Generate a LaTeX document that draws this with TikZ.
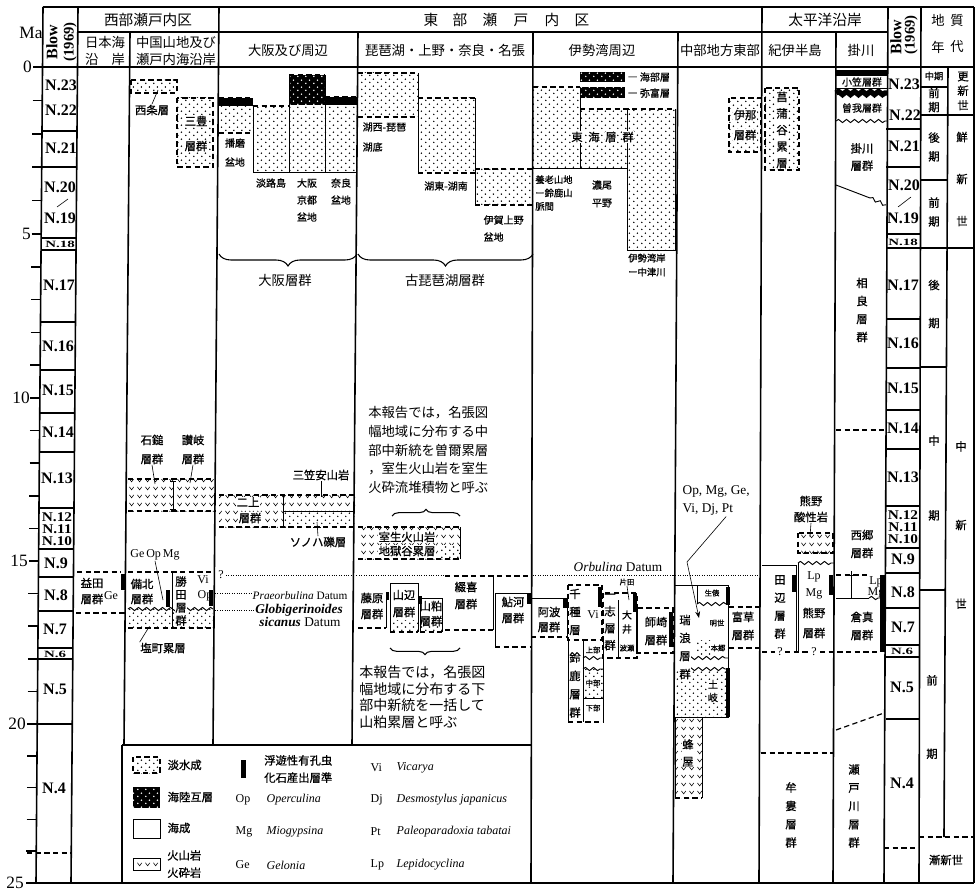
\documentclass[tikz,border=0pt]{standalone}
\usepackage{fontspec}
\setmainfont{Liberation Serif}
\newfontfamily\jp{Noto Sans CJK JP}
\newfontfamily\jpb{Noto Sans CJK JP}[FakeBold=0.8]
\usetikzlibrary{patterns,decorations.pathmorphing,decorations.pathreplacing,arrows.meta}
\pgfdeclarepatternformonly{fdots}{\pgfqpoint{0pt}{0pt}}{\pgfqpoint{6pt}{5pt}}{\pgfqpoint{6pt}{5pt}}{%
  \pgfpathcircle{\pgfqpoint{1.5pt}{1.25pt}}{0.65pt}%
  \pgfpathcircle{\pgfqpoint{4.5pt}{3.75pt}}{0.65pt}%
  \pgfusepath{fill}}
\pgfdeclarepatternformonly{vees}{\pgfqpoint{0pt}{0pt}}{\pgfqpoint{6pt}{6pt}}{\pgfqpoint{6pt}{6pt}}{%
  \pgfsetlinewidth{0.45pt}%
  \pgfpathmoveto{\pgfqpoint{1.2pt}{4.2pt}}\pgfpathlineto{\pgfqpoint{3pt}{1.8pt}}\pgfpathlineto{\pgfqpoint{4.8pt}{4.2pt}}%
  \pgfusepath{stroke}}
\begin{document}
\begin{tikzpicture}[x=0.75pt,y=-0.75pt,
  jS/.style={font=\jpb\fontsize{7.5}{8}\selectfont, inner sep=0.3pt},
  jT/.style={font=\jpb\fontsize{5.5}{6}\selectfont, inner sep=0.2pt},
  jM/.style={font=\jpb\fontsize{8.5}{9}\selectfont, inner sep=0.3pt},
  jL/.style={font=\jp\fontsize{10}{11}\selectfont, inner sep=0.3pt},
  jH/.style={font=\jp\fontsize{11}{12}\selectfont, inner sep=0pt},
  vt/.style={font=\jpb\fontsize{8.5}{#1}\selectfont, align=center, inner sep=0.3pt},
  nz/.style={font=\bfseries\fontsize{12}{12}\selectfont, inner sep=0pt},
  nzc/.style={font=\bfseries\fontsize{10}{10}\selectfont, inner sep=0pt},
  ax/.style={font=\fontsize{13}{13}\selectfont, inner sep=0pt},
  lat/.style={font=\fontsize{9}{10}\selectfont, inner sep=0.3pt},
  wb/.style={fill=white},
  frm/.style={line width=1.2pt},
  thn/.style={line width=0.7pt},
  dsh/.style={line width=0.9pt, dash pattern=on 4pt off 2.5pt},
  fw/.style={pattern=fdots},
  wd/.style={pattern=fdots, pattern color=white},
  vo/.style={pattern=vees},
  wav/.style={line width=0.7pt, decorate, decoration={snake, amplitude=1.2pt, segment length=6pt}},
  dotl/.style={line width=0.6pt, dash pattern=on 0.6pt off 1.2pt},
  lead/.style={line width=0.45pt},
  brc/.style={decorate, decoration={brace, amplitude=#1}, line width=0.8pt},
]
\useasboundingbox (0,0) rectangle (976,892);

%%%%%%%% PATTERN FILLS
% Chugoku
\fill[fw] (131,80) rectangle (177,93);
\fill[fw] (177,98) rectangle (213,167);
\fill[vo] (128,479) rectangle (215,511);
\fill[fw] (128,609) rectangle (213,628);
% Osaka
\fill (219,98) rectangle (253,106);
\fill[fw] (219,106) rectangle (253,133);
\fill[fw] (253,106) rectangle (289,172);
\fill (289,75) rectangle (325,105);
\fill[wd] (289,75) rectangle (325,105);
\fill[fw] (289,105) rectangle (325,172);
\fill (325,97) rectangle (357,105);
\fill[fw] (325,105) rectangle (357,172);
\fill[vo] (219,495) rectangle (283,527);
\fill[vo] (283,495) rectangle (355,511);
\fill[fw] (283,511) rectangle (355,527);
% Biwa
\fill[fw] (358,73) rectangle (418,117);
\fill[fw] (418,98) rectangle (475,173);
\fill[fw] (475,169) rectangle (533,205);
\fill[vo] (358,527) rectangle (460,559);
\fill[white] (440,545) rectangle (459,558);
\fill[fw] (440,545) rectangle (459,558);
\fill[fw] (390,620) rectangle (418,632);
\fill[fw] (420,622) rectangle (442,632);
% Ise
\fill (580,72) rectangle (625,82);
\fill (580,87) rectangle (625,98);
\fill[wd] (580,72) rectangle (625,98);
\fill[fw] (533,87) rectangle (580,168);
\fill[fw] (580,109) rectangle (627,168);
\fill[fw] (627,109) rectangle (675,250);
\fill[fw] (583,669) rectangle (603,698);
% Chubu
\fill[fw] (729,98) rectangle (761,152);
\fill[fw] (676,670) rectangle (727,717);
\fill[fw] (697,640) rectangle (712,656);
\fill[vo] (675,717) rectangle (702,798);
% Kii
\fill[fw] (765,88) rectangle (799,170);
\fill[vo] (798,533) rectangle (833,553);
% legend swatches
\fill[fw] (133,757) rectangle (160,773);
\fill (133,787) rectangle (160,808);
\fill[wd] (133,787) rectangle (160,808);
\fill[vo] (133,858) rectangle (160,870);

%%%%%%%% FRAME
\draw[frm] (43,7) -- (974,7);
\draw[frm] (78,32) -- (888,32);
\draw[frm] (33,67) -- (974,67);
\draw[frm] (43,7) -- (36,883);
\draw[frm] (78,7) -- (71,883);
\draw[frm] (130,32) -- (124,745);
\draw[frm] (219,7) -- (213,745);
\draw[frm] (358,32) -- (352,745);
\draw[frm] (533,32) -- (531,883);
\draw[frm] (678,32) -- (673,883);
\draw[frm] (762,7) -- (759,883);
\draw[frm] (836,32) -- (833,883);
\draw[frm] (888,7) -- (884,883);
\draw[frm] (921,7) -- (919,883);
\draw[frm] (948,67) -- (944,837);
\draw[frm] (974,7) -- (974,883);
\draw[frm] (26,883) -- (974,883);
\draw[frm] (122,745) -- (531,745);
\draw[frm] (122,745) -- (122,883);

% ticks
\foreach \yy in {67,100.4,133.8,167.2,200.6,234,266.8,299.6,332.4,365.2,398,430.6,463.2,495.8,528.4,561,593.6,626.2,658.8,691.4,724,755.8,787.6,819.4,851.2,883}{
  \pgfmathsetmacro\xa{43-7*(\yy-67)/816}
  \draw[frm] (\xa-10,\yy) -- (\xa,\yy);}
% left Blow cells
\foreach \yy in {131,167,238,250,322,370,413,452,508,549,577,611,648,659,724}{
  \pgfmathsetmacro\xa{43-7*(\yy-67)/816}
  \draw[frm] (\xa,\yy) -- (\xa+35,\yy);}
\draw[dsh] (27,853) -- (71,853);
% right Blow cells
\foreach \yy in {129,167,234,248,319,368,410,449,506,548,573,608,645,657,719}{
  \draw[frm] (886,\yy) -- (920,\yy);}
\draw[dsh] (884,848) -- (919,848);
\draw[lead] (68,199) -- (57,207);
\draw[lead] (911,197) -- (898,207);
% age column
\draw[frm] (921,87) -- (948,87);
\draw[frm] (921,115) -- (974,115);
\draw[frm] (921,180) -- (948,180);
\draw[frm] (920,248) -- (974,248);
\draw[frm] (920,367) -- (946,367);
\draw[frm] (920,590) -- (945,590);
\draw[dsh] (919,837) -- (974,837);

%%%%%%%% HEADER TEXT
\node[ax] (ma) at (31,33) {Ma};
\node[rotate=90, font=\bfseries\fontsize{12}{12}\selectfont, inner sep=0] (blowL) at (52,42) {Blow};
\node[rotate=90, font=\bfseries\fontsize{11}{11}\selectfont, inner sep=0] (yrL) at (70,42) {(1969)};
\node[rotate=90, font=\bfseries\fontsize{12}{12}\selectfont, inner sep=0] (blowR) at (896,37) {Blow};
\node[rotate=90, font=\bfseries\fontsize{11}{11}\selectfont, inner sep=0] (yrR) at (911,35) {(1969)};
\node[jH] (hW) at (148,20) {西部瀬戸内区};
\node[jH] (hE1) at (431,20) {東};
\node[jH] (hE2) at (460,20) {部};
\node[jH] (hE3) at (490,20) {瀬};
\node[jH] (hE4) at (521,20) {戸};
\node[jH] (hE5) at (552,20) {内};
\node[jH] (hE6) at (582,20) {区};
\node[jH] (hP) at (825,20) {太平洋沿岸};
\node[jL] (hA1) at (938,20) {地};
\node[jL] (hA2) at (957,20) {質};
\node[jL] (hA3) at (938,47) {年};
\node[jL] (hA4) at (957,47) {代};
\node[jL] (c1a) at (105,42) {日本海};
\node[jL] (c1b) at (105,59) {沿\hspace{1em}岸};
\node[jL] (c2a) at (176,42) {中国山地及び};
\node[jL] (c2b) at (176,59) {瀬戸内海沿岸};
\node[jL] (c3) at (288,50) {大阪及び周辺};
\node[jL] (c4) at (445,50) {琵琶湖・上野・奈良・名張};
\node[jL] (c5) at (602,50) {伊勢湾周辺};
\node[jL] (c6) at (720,50) {中部地方東部};
\node[jL] (c7) at (795,50) {紀伊半島};
\node[jL] (c8) at (861,50) {掛川};

% axis numbers
\node[ax, anchor=east] (a0) at (32,67) {0};
\node[ax, anchor=east] (a5) at (31,234) {5};
\node[ax, anchor=east] (a10) at (30,398) {10};
\node[ax, anchor=east] (a15) at (28,561) {15};
\node[ax, anchor=east] (a20) at (26,724) {20};
\node[ax, anchor=east] (a25) at (24,883) {25};

% Blow zones left
\node[nz] (l23) at (61,85) {N.23};
\node[nz] (l22) at (61,110) {N.22};
\node[nz] (l21) at (61,148) {N.21};
\node[nz] (l20) at (60,187) {N.20};
\node[nz] (l19) at (60,218) {N.19};
\node[inner sep=0, font=\bfseries\fontsize{8}{8}\selectfont] (l18) at (60,244) {\scalebox{1.4}[0.9]{N.18}};
\node[nz] (l17) at (59,285) {N.17};
\node[nz] (l16) at (58,346) {N.16};
\node[nz] (l15) at (58,390) {N.15};
\node[nz] (l14) at (58,432) {N.14};
\node[nz] (l13) at (57,478) {N.13};
\node[nzc] (l12) at (57,517) {\scalebox{1.15}[1]{N.12}};
\node[nzc] (l11) at (57,529) {\scalebox{1.15}[1]{N.11}};
\node[nzc] (l10) at (57,541) {\scalebox{1.15}[1]{N.10}};
\node[nz] (l9) at (56,563) {N.9};
\node[nz] (l8) at (56,595) {N.8};
\node[nz] (l7) at (55,629) {N.7};
\node[inner sep=0, font=\bfseries\fontsize{8}{8}\selectfont] (l6) at (55,654) {\scalebox{1.4}[0.9]{N.6}};
\node[nz] (l5) at (55,689) {N.5};
\node[nz] (l4) at (54,788) {N.4};
% Blow zones right
\node[nz] (r23) at (904,84) {N.23};
\node[nz] (r22) at (905,115) {N.22};
\node[nz] (r21) at (904,146) {N.21};
\node[nz] (r20) at (904,185) {N.20};
\node[nz] (r19) at (903,218) {N.19};
\node[inner sep=0, font=\bfseries\fontsize{8}{8}\selectfont] (r18) at (903,242) {\scalebox{1.4}[0.9]{N.18}};
\node[nz] (r17) at (903,285) {N.17};
\node[nz] (r16) at (903,343) {N.16};
\node[nz] (r15) at (903,388) {N.15};
\node[nz] (r14) at (903,428) {N.14};
\node[nz] (r13) at (903,477) {N.13};
\node[nzc] (r12) at (903,515) {\scalebox{1.15}[1]{N.12}};
\node[nzc] (r11) at (903,527) {\scalebox{1.15}[1]{N.11}};
\node[nzc] (r10) at (903,539) {\scalebox{1.15}[1]{N.10}};
\node[nz] (r9) at (903,559) {N.9};
\node[nz] (r8) at (903,592) {N.8};
\node[nz] (r7) at (903,627) {N.7};
\node[inner sep=0, font=\bfseries\fontsize{8}{8}\selectfont] (r6) at (902,651) {\scalebox{1.4}[0.9]{N.6}};
\node[nz] (r5) at (902,687) {N.5};
\node[nz] (r4) at (902,783) {N.4};

% geological age
\node[jT, font=\jpb\fontsize{7}{7}\selectfont] (g1) at (934,76) {中期};
\node[vt=10.5pt] (g2) at (934,100) {前\\期};
\node[vt=10.9pt] (g3) at (963,91) {更\\新\\世};
\node[vt=14pt] (g4) at (934,147) {後\\期};
\node[vt=14pt] (g5) at (934,212) {前\\期};
\node[vt=31.5pt] (g6) at (962,179) {鮮\\新\\世};
\node[vt=28.5pt] (g7) at (934,304) {後\\期};
\node[vt=56pt] (g8) at (934,478) {中\\期};
\node[vt=59pt] (g9) at (961,525) {中\\新\\世};
\node[vt=55pt] (g10) at (932,717) {前\\期};
\node[jM] (g11) at (946,860) {漸新世};

%%%%%%%% WESTERN COLUMNS
% Nihonkai: Masuda
\draw[dsh] (77,572) -- (121,572) (76,613) -- (125,613);
\fill (121,574) rectangle (125,590);
\node[jM] (masuda1) at (92,583) {益田};
\node[jM] (masuda2) at (92,599) {層群};
\node[lat] (ge1) at (111,596) {Ge};
% Chugoku
\draw[dsh] (131,80) rectangle (177,93);
\draw[dsh] (177,98) rectangle (213,167);
\node[jM] (saijo) at (152,110) {西条層};
\coordinate (saijoP) at (158,90);
\draw[lead] (saijo.north) -- (saijoP);
\node[jM, wb] (mito1) at (196,121) {三豊};
\node[jM, wb] (mito2) at (196,146) {層群};
\draw[dsh] (128,479) -- (215,479) (128,511) -- (215,511);
\draw[thn] (173,481) -- (173,509) (170,481) -- (176,481) (170,509) -- (176,509);
\node[jM] (ishi1) at (152,440) {石鎚};
\node[jM] (ishi2) at (152,459) {層群};
\node[jM] (sanu1) at (193,440) {讃岐};
\node[jM] (sanu2) at (193,459) {層群};
\coordinate (ishiP) at (155,484);
\coordinate (sanuP) at (190,483);
\draw[lead] (ishi2.south) -- (ishiP);
\draw[lead] (sanu2.south) -- (sanuP);
\draw[dsh] (128,572) -- (213,572);
\draw[thn] (172,572) -- (172,628);
\draw[wav] (128,609) -- (213,609);
\draw[dsh] (128,628) -- (213,628);
\fill (166,590) rectangle (170,607);
\fill (209,590) rectangle (213,606);
\node[lat] (geopmg) at (155,555) {Ge\,Op\,Mg};
\coordinate (geopmgP) at (163,600);
\draw[lead] (geopmg.south) -- (geopmgP);
\node[jM] (bihoku1) at (142,584) {備北};
\node[jM] (bihoku2) at (142,599) {層群};
\node[vt=9.75pt, wb] (katsuta) at (181,601) {勝\\田\\層\\群};
\node[lat] (vi1) at (203,580) {Vi};
\node[lat] (op1) at (205,596) {Op};
\node[jM] (shiomachi) at (163,648) {塩町累層};
\coordinate (shioP) at (149,627);
\draw[lead] (shiomachi.north west) -- (shioP);
\node[lat] (q1) at (221,575) {?};

%%%%%%%% OSAKA
\draw[dsh] (219,98) -- (253,98) (219,133) -- (253,133) (253,106) -- (289,106) (289,75) -- (325,75) (325,97) -- (357,97);
\draw[thn] (253,106) -- (253,172) -- (357,172);
\draw[thn] (289,75) -- (289,172) (325,75) -- (325,172);
\node[jS] (harima1) at (235,143) {播磨};
\node[jS] (harima2) at (235,162) {盆地};
\node[jS] (awaji) at (271,183) {淡路島};
\node[jS] (osk1) at (307,183) {大阪};
\node[jS] (osk2) at (307,200) {京都};
\node[jS] (osk3) at (307,217) {盆地};
\node[jS] (nara1) at (341,183) {奈良};
\node[jS] (nara2) at (341,200) {盆地};
\draw[brc=9pt] (357,254) -- (219,254);
\node[jL] (osakagr) at (285,280) {大阪層群};
% Nijo / Mikasa
\draw[dsh] (219,495) -- (355,495) (219,527) -- (355,527);
\draw[thn] (283,495) -- (283,527) (283,511) -- (355,511);
\node[jM, wb] (nijo1) at (248,502) {二上};
\node[jM, wb] (nijo2) at (250,518) {層群};
\node[jM] (mikasa) at (321,475) {三笠安山岩};
\coordinate (mikasaP) at (321,497);
\draw[lead] (mikasa.south) -- (mikasaP);
\node[jM] (sonoha) at (318,542) {ソノハ礫層};
\coordinate (sonohaP) at (317,522);
\draw[lead] (sonoha.north) -- (sonohaP);
\draw[lead] (313,527) -- (321,527);
% datums
\draw[dotl] (226,575) -- (357,575);
\node[font=\fontsize{8.5}{9}\selectfont, inner sep=0.3pt, anchor=west] (praeo) at (252,596) {\textit{Praeorbulina} Datum};
\coordinate (praeoL) at (215,593);
\draw[dotl] (praeoL) -- (praeo.west |- praeoL);
\node[font=\bfseries\itshape\fontsize{10}{10}\selectfont, inner sep=0.3pt] (globi) at (299,610) {Globigerinoides};
\coordinate (globiL) at (215,610);
\draw[dotl] (globiL) -- (globi.west |- globiL);
\node[font=\fontsize{10}{10}\selectfont, inner sep=0.3pt] (sican) at (300,622) {\textbf{\textit{sicanus}} Datum};

%%%%%%%% BIWA
\draw[dsh] (358,73) -- (418,73) (358,117) -- (418,117) (418,98) -- (475,98) (418,173) -- (475,173) (475,169) -- (533,169) (475,205) -- (533,205);
\draw[thn] (418,73) -- (418,173) (475,98) -- (475,205);
\node[jS, anchor=west] (kosei1) at (362,127) {湖西-琵琶};
\node[jS, anchor=west] (kosei2) at (362,147) {湖底};
\node[jS] (koto) at (446,186) {湖東-湖南};
\node[jS, anchor=west] (iga1) at (483,220) {伊賀上野};
\node[jS, anchor=west] (iga2) at (483,237) {盆地};
\draw[brc=9pt] (533,254) -- (358,254);
\node[jL] (kobiwa) at (445,280) {古琵琶湖層群};
\node[anchor=west, align=left, font=\jp\fontsize{10}{13.9}\selectfont, inner sep=0] (blk1) at (368,450) {本報告では，名張図\\幅地域に分布する中\\部中新統を曽爾累層\\，室生火山岩を室生\\火砕流堆積物と呼ぶ};
\draw[brc=5pt] (392,516) -- (460,516);
\draw[dsh] (358,527) -- (460,527) (358,559) -- (460,559);
\draw[thn] (460,527) -- (460,559);
\node[jM, wb] (muro1) at (407,537) {室生火山岩};
\node[jM, wb] (muro2) at (407,551) {地獄谷累層};
% lower Biwa boxes
\draw[thn] (386,593) -- (386,628);
\draw[dsh] (358,628) -- (386,628);
\node[jM] (fuji1) at (372,598) {藤原};
\node[jM] (fuji2) at (372,614) {層群};
\draw[thn] (390,632) -- (390,583) -- (418,583) -- (418,632);
\draw[dsh] (390,632) -- (418,632);
\node[jM] (yama1) at (404,595) {山辺};
\node[jM] (yama2) at (404,612) {層群};
\draw[thn] (420,632) -- (420,598) -- (442,598) -- (442,632);
\draw[dsh] (420,632) -- (442,632);
\node[jM] (yamak1) at (431,606) {山粕};
\node[jM] (yamak2) at (431,621) {層群};
\fill (386,592) rectangle (389,600);
\fill (419,596) rectangle (422,604);
\draw[dsh] (445,576) -- (531,576) (445,630) -- (493,630);
\draw[thn] (493,576) -- (493,630);
\node[jM] (tsu1) at (466,587) {綴喜};
\node[jM] (tsu2) at (466,604) {層群};
\draw[thn] (495,647) -- (495,593) -- (531,593);
\draw[dsh] (495,647) -- (531,647);
\fill (527,593) rectangle (531,604);
\node[jM] (ayu1) at (513,602) {鮎河};
\node[jM] (ayu2) at (513,618) {層群};
\draw[brc=5pt] (460,648) -- (390,648);
\node[anchor=west, align=left, font=\jp\fontsize{10.5}{12.5}\selectfont, inner sep=0] (blk2) at (359,697) {本報告では，名張図\\幅地域に分布する下\\部中新統を一括して\\山粕累層と呼ぶ};

%%%%%%%% ISE
\draw[dsh] (533,87) -- (580,87) (580,109) -- (675,109);
\draw[thn] (580,98) -- (580,168) (533,168) -- (627,168) (627,109) -- (627,250) -- (675,250) -- (675,109);
\draw[thn] (624,109) -- (630,109);
\node[jS, anchor=west] (ama) at (627,77) {― 海部層};
\node[jS, anchor=west] (yato) at (627,93) {― 弥富層};
\node[jM, wb] (tk1) at (577,137) {東};
\node[jM, wb] (tk2) at (594,137) {海};
\node[jM, wb] (tk3) at (611,137) {層};
\node[jM, wb] (tk4) at (628,137) {群};
\node[anchor=west, align=left, font=\jpb\fontsize{7}{10}\selectfont, inner sep=0] (yoro) at (535,193) {養老山地\\ー鈴鹿山\\脈間};
\node[jS] (nobi1) at (602,185) {濃尾};
\node[jS] (nobi2) at (602,203) {平野};
\node[anchor=west, align=left, font=\jpb\fontsize{7}{10.5}\selectfont, inner sep=0] (isewan) at (628,265) {伊勢湾岸\\ー中津川};
% lower Ise
\draw[thn] (531,598) -- (567,598) -- (567,637);
\draw[dsh] (531,637) -- (567,637);
\fill (563,598) rectangle (567,608);
\node[jM] (awa1) at (549,612) {阿波};
\node[jM] (awa2) at (549,627) {層群};
\draw[dsh] (568,585) rectangle (602,640);
\fill (598,587) rectangle (602,607);
\node[vt=13.5pt] (chigusa) at (575,612) {千\\種\\層};
\node[lat] (vi2) at (593,615) {Vi};
\draw[thn] (568,640) -- (568,722) (603,640) -- (603,722) (583,640) -- (583,722);
\draw[dsh] (568,722) -- (603,722);
\draw[wav] (583,658) -- (603,658);
\draw[wav] (583,669) -- (603,669);
\draw[thn] (583,698) -- (603,698);
\node[vt=13.75pt] (suzuka) at (575,685) {鈴\\鹿\\層\\群};
\node[jT] (jo) at (593,650) {上部};
\node[jT, wb] (chu) at (593,683) {中部};
\node[jT] (ka) at (593,708) {下部};
\draw[dsh] (603,593) rectangle (637,658);
\draw[thn] (618,600) -- (618,658);
\fill (633,593) rectangle (637,612);
\node[vt=12.75pt] (ichishi) at (610,622) {一\\志\\層\\群};
\node[vt=10.5pt, font=\jpb\fontsize{7.5}{10.5}\selectfont] (ooi) at (627,622) {大\\井};
\node[jT] (hase) at (627,648) {波瀬};
\node[jT] (katada) at (627,582) {片田};
\coordinate (katadaP) at (629,600);
\draw[lead] (katada.south) -- (katadaP);
\draw[dsh] (637,608) rectangle (673,653);
\fill (669,612) rectangle (673,647);
\node[jM] (mor1) at (656,622) {師崎};
\node[jM] (mor2) at (656,640) {層群};

%%%%%%%% CHUBU
\draw[dsh] (729,98) rectangle (761,152);
\node[jM, wb] (ina1) at (745,115) {伊那};
\node[jM, wb] (ina2) at (745,135) {層群};
\node[lat, anchor=west, align=left, font=\fontsize{10}{13.5}\selectfont] (opmg) at (682,501) {Op, Mg, Ge,\\Vi, Dj, Pt};
\coordinate (opk) at (687,562);
\coordinate (opP) at (699,618);
\draw[lead, -{Stealth[length=5pt]}] (opmg.south) ++(10,0) -- (opk) -- (opP);
\draw[thn] (675,585) -- (728,585) -- (728,717) -- (675,717);
\draw[thn] (697,585) -- (697,604);
\draw[wav] (697,604) -- (728,604);
\draw[wav] (680,658) -- (728,658);
\draw[wav] (680,669) -- (728,669);
\fill (726,587) rectangle (730,605);
\fill (726,668) rectangle (730,717);
\node[jT] (ikubo) at (712,593) {生俵};
\node[jT] (akeyo) at (717,623) {明世};
\node[jT, wb] (hongo) at (718,648) {本郷};
\node[vt=9.75pt, font=\jpb\fontsize{7.5}{9.75}\selectfont, wb] (toki) at (713,691) {土\\岐};
\node[vt=13.5pt, wb] (mizu) at (685,647) {瑞\\浪\\層\\群};
\draw[dsh] (729,607) -- (760,607) (729,648) -- (760,648);
\node[jM] (tomi1) at (743,617) {富草};
\node[jM] (tomi2) at (743,635) {層群};
\draw[thn] (675,717) -- (675,798) (702,717) -- (702,798);
\draw[dsh] (675,798) -- (702,798);
\node[vt=12.75pt, wb] (hachiya) at (688,753) {蜂\\屋};
\draw[dotl] (673,575) -- (759,575);
\node[font=\fontsize{10}{10}\selectfont, inner sep=0.3pt] (orbu) at (618,567) {\textit{Orbulina} Datum};
\draw[dotl] (359,575) -- (445,575) (533,575) -- (673,575);

%%%%%%%% KII
\draw[dsh] (765,88) rectangle (799,170);
\node[vt=12.4pt, wb] (shobu) at (782,130) {菖\\蒲\\谷\\累\\層};
\node[jM] (kumano1) at (811,501) {熊野};
\node[jM] (kumano2) at (811,517) {酸性岩};
\coordinate (kumanoP) at (810,537);
\draw[lead] (kumano2.south) -- (kumanoP);
\draw[dsh] (798,533) rectangle (833,553);
\draw[wav] (798,563) -- (834,563);
\draw[thn] (762,565) -- (796,565) -- (796,652);
\draw[thn] (798,563) -- (798,652);
\fill (792,575) rectangle (796,592);
\fill (829,575) rectangle (833,595);
\node[vt=13.5pt] (tanabe) at (780,607) {田\\辺\\層\\群};
\node[lat] (qa) at (780,652) {?};
\node[lat] (lp1) at (814,577) {Lp};
\node[lat] (mg1) at (814,594) {Mg};
\node[jM] (kum1) at (814,613) {熊野};
\node[jM] (kum2) at (814,633) {層群};
\node[lat] (qb) at (814,652) {?};
\draw[dsh] (762,652) -- (775,652) (785,652) -- (808,652) (820,652) -- (880,652);
\draw[dsh] (761,753) -- (833,753);
\node[vt=13.75pt] (muro) at (791,815) {牟\\婁\\層\\群};

%%%%%%%% KAKEGAWA
\fill (836,70) rectangle (888,75);
\draw[thn] (836,75) -- (888,75) (836,88) -- (888,88);
\node[jS] (ogasa) at (862,82) {小笠層群};
\draw[decorate, decoration={snake, amplitude=1.2pt, segment length=6pt}, line width=4pt] (836,93) -- (887,93);
\node[jS] (soga) at (862,108) {曽我層群};
\draw[wav] (836,121) -- (887,121);
\node[vt=13pt] (kake) at (862,157) {掛川\\層群};
\draw[thn] (836,185) -- (870,198);
\draw[wav] (870,198) -- (886,205);
\node[vt=13.5pt] (sagara) at (862,310) {相\\良\\層\\群};
\draw[dsh] (836,430) -- (884,430);
\node[vt=13.5pt] (saigo) at (862,544) {西郷\\層群};
\draw[dsh] (836,575) -- (870,575);
\draw[thn] (851,571) -- (851,598) (846,575) -- (856,575);
\node[lat] (lp2) at (876,582) {Lp};
\node[lat] (mg2) at (876,593) {Mg};
\draw[thn] (836,598) -- (869,598);
\draw[wav] (869,598) -- (880,598);
\fill (880,575) rectangle (885,652);
\node[vt=13.5pt] (kura) at (862,626) {倉真\\層群};
\draw[dsh] (836,730) -- (884,713);
\node[vt=13.7pt] (setogawa) at (854,806) {瀬\\戸\\川\\層\\群};

%%%%%%%% LEGEND
\draw[dsh] (133,757) rectangle (160,773);
\draw[thn] (133,819) rectangle (160,838);
\draw[thn] (133,858) rectangle (160,870);
\node[jM, anchor=west] (lg1) at (167,765) {淡水成};
\node[jM, anchor=west] (lg2) at (167,797) {海陸互層};
\node[jM, anchor=west] (lg3) at (167,828) {海成};
\node[anchor=west, align=left, font=\jpb\fontsize{8.5}{13}\selectfont, inner sep=0] (lg4) at (167,864) {火山岩\\火砕岩};
\fill (241,760) rectangle (246,778);
\node[anchor=west, align=left, font=\jpb\fontsize{8.5}{13}\selectfont, inner sep=0] (lg5) at (264,769) {浮遊性有孔虫\\化石産出層準};
\node[lat, anchor=west] (lgop) at (235,800) {Op};
\node[lat, anchor=west] (lgop2) at (266,800) {\textit{Operculina}};
\node[lat, anchor=west] (lgmg) at (235,832) {Mg};
\node[lat, anchor=west] (lgmg2) at (266,832) {\textit{Miogypsina}};
\node[lat, anchor=west] (lgge) at (235,865) {Ge};
\node[lat, anchor=west] (lgge2) at (266,865) {\textit{Gelonia}};
\node[lat, anchor=west] (lgvi) at (370,768) {Vi};
\node[lat, anchor=west] (lgvi2) at (396,768) {\textit{Vicarya}};
\node[lat, anchor=west] (lgdj) at (370,800) {Dj};
\node[lat, anchor=west] (lgdj2) at (396,800) {\textit{Desmostylus japanicus}};
\node[lat, anchor=west] (lgpt) at (370,832) {Pt};
\node[lat, anchor=west] (lgpt2) at (396,832) {\textit{Paleoparadoxia tabatai}};
\node[lat, anchor=west] (lglp) at (370,865) {Lp};
\node[lat, anchor=west] (lglp2) at (396,865) {\textit{Lepidocyclina}};
\end{tikzpicture}
\end{document}
